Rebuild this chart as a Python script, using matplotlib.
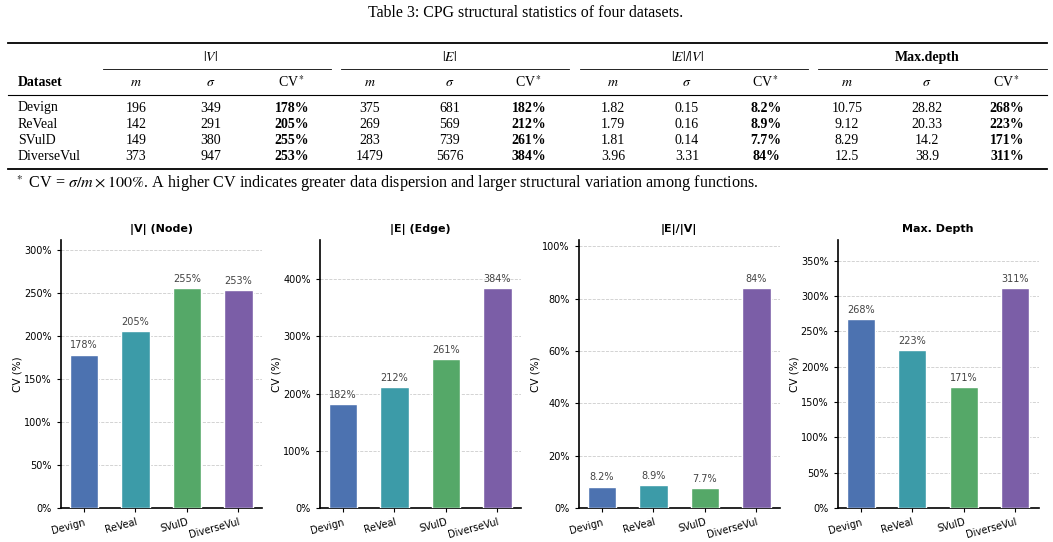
import matplotlib
matplotlib.use('Agg')
import matplotlib.pyplot as plt
from matplotlib.lines import Line2D
from matplotlib.ticker import FuncFormatter

plt.rcParams['mathtext.fontset'] = 'stix'

W, H = 1053, 542

datasets = ['Devign', 'ReVeal', 'SVulD', 'DiverseVul']

v_mean = [196, 142, 149, 373]
v_std = [349, 291, 380, 947]
v_cv = [178, 205, 255, 253]

e_mean = [375, 269, 283, 1479]
e_std = [681, 569, 739, 5676]
e_cv = [182, 212, 261, 384]

ratio_mean = [1.82, 1.79, 1.81, 3.96]
ratio_std = [0.15, 0.16, 0.14, 3.31]
ratio_cv = [8.2, 8.9, 7.7, 84]

depth_mean = [10.75, 9.12, 8.29, 12.5]
depth_std = [28.82, 20.33, 14.2, 38.9]
depth_cv = [268, 223, 171, 311]

group_names = ['$|V|$', '$|E|$', '$|E|/|V|$', 'Max.depth']
chart_titles = ['|V| (Node)', '|E| (Edge)', '|E|/|V|', 'Max. Depth']
bar_colors = ['#4C72B0', '#3C9BA8', '#55A868', '#7B5EA7']

fig = plt.figure(figsize=(W / 100, H / 100), dpi=100)


def ftext(x, y, s, **kw):
    kw.setdefault('family', 'Liberation Serif')
    kw.setdefault('fontsize', 10)
    kw.setdefault('ha', 'center')
    kw.setdefault('va', 'center')
    fig.text(x / W, 1 - y / H, s, **kw)


def hline(x0, x1, y, lw):
    fig.add_artist(Line2D([x0 / W, x1 / W], [1 - y / H, 1 - y / H],
                          transform=fig.transFigure, color='black', lw=lw))


# ---- table ----
ftext(526, 13, 'Table 3: CPG structural statistics of four datasets.', fontsize=11.4)
hline(8, 1047, 43, 1.3)
hline(8, 1047, 95, 0.8)
hline(8, 1047, 169, 1.3)

col_m = [136, 370, 613, 847]
col_s = [211, 450, 687, 927]
col_cv = [292, 529, 766, 1007]
mid_spans = [(103, 331), (341, 569), (580, 808), (818, 1047)]

for i, name in enumerate(group_names):
    weight = 'bold' if i == 3 else 'normal'
    ftext(col_s[i], 57, name, fontweight=weight)
    hline(mid_spans[i][0], mid_spans[i][1], 69, 0.6)
    ftext(col_m[i], 83, '$m$')
    ftext(col_s[i], 83, r'$\sigma$')
    ftext(col_cv[i], 82, 'CV$^*$')

ftext(18, 83, 'Dataset', ha='left', fontweight='bold')

row_y = [108, 124, 140, 156]
groups = [(v_mean, v_std, v_cv), (e_mean, e_std, e_cv),
          (ratio_mean, ratio_std, ratio_cv), (depth_mean, depth_std, depth_cv)]
for r, ds in enumerate(datasets):
    ftext(18, row_y[r], ds, ha='left')
    for i, (mean, std, cv) in enumerate(groups):
        ftext(col_m[i], row_y[r], '{:g}'.format(mean[r]))
        ftext(col_s[i], row_y[r], '{:g}'.format(std[r]))
        ftext(col_cv[i], row_y[r], '{:g}%'.format(cv[r]), fontweight='bold')

ftext(15, 184, r'$^*$ CV = $\sigma/m \times 100\%$. A higher CV indicates greater data dispersion '
      'and larger structural variation among functions.', ha='left', fontsize=11.6)

# ---- bar charts ----
cvs = [v_cv, e_cv, ratio_cv, depth_cv]
lefts = [60.7, 319.7, 578.7, 837.5]
for k in range(4):
    ax = fig.add_axes([lefts[k] / W, (H - 508) / H, 201 / W, 268 / H])
    x = list(range(len(datasets)))
    bars = ax.bar(x, cvs[k], width=0.55, color=bar_colors, edgecolor='white', linewidth=1, zorder=3)
    ax.set_ylim(0, max(cvs[k]) * 1.22)
    for b, val in zip(bars, cvs[k]):
        ax.annotate('{:g}%'.format(val), (b.get_x() + b.get_width() / 2, b.get_height()),
                    xytext=(0, 3), textcoords='offset points', ha='center', va='bottom',
                    fontsize=7, color='#444444')
    ax.set_title(chart_titles[k], fontsize=8, fontweight='bold', pad=5.5)
    ax.set_ylabel('CV (%)', fontsize=7.5, labelpad=1)
    ax.set_xticks(x)
    ax.set_xticklabels(datasets, rotation=15, ha='right', rotation_mode='anchor')
    ax.yaxis.set_major_formatter(FuncFormatter(lambda v, p: '{:.0f}%'.format(v)))
    ax.tick_params(labelsize=7, length=3, width=0.8)
    ax.grid(axis='y', linestyle='--', color='#cccccc', linewidth=0.6, zorder=0)
    ax.set_axisbelow(True)
    for s in ['top', 'right']:
        ax.spines[s].set_visible(False)
    for s in ['left', 'bottom']:
        ax.spines[s].set_linewidth(1.2)

fig.savefig('out.png', dpi=100)
